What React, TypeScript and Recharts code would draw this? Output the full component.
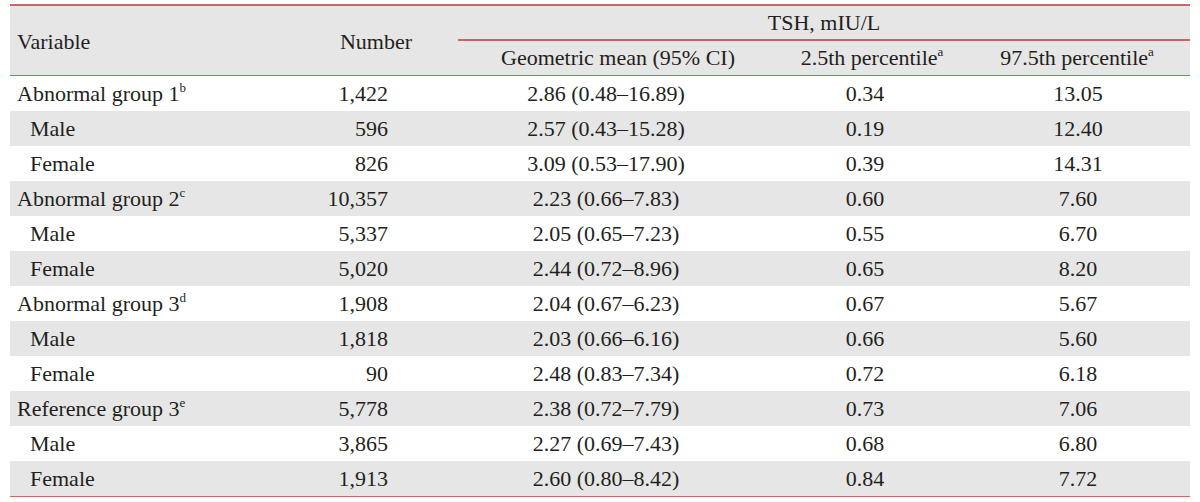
import { BarChart, Bar, XAxis, YAxis, Customized } from 'recharts';

const variables = [
  'Abnormal group 1', 'Male', 'Female',
  'Abnormal group 2', 'Male', 'Female',
  'Abnormal group 3', 'Male', 'Female',
  'Reference group 3', 'Male', 'Female',
];
const footnotes = ['b', '', '', 'c', '', '', 'd', '', '', 'e', '', ''];
const subRow = [false, true, true, false, true, true, false, true, true, false, true, true];
const numbers = [1422, 596, 826, 10357, 5337, 5020, 1908, 1818, 90, 5778, 3865, 1913];
const geoMean = [2.86, 2.57, 3.09, 2.23, 2.05, 2.44, 2.04, 2.03, 2.48, 2.38, 2.27, 2.6];
const ciLow = [0.48, 0.43, 0.53, 0.66, 0.65, 0.72, 0.67, 0.66, 0.83, 0.72, 0.69, 0.8];
const ciHigh = [16.89, 15.28, 17.9, 7.83, 7.23, 8.96, 6.23, 6.16, 7.34, 7.79, 7.43, 8.42];
const p2_5 = [0.34, 0.19, 0.39, 0.6, 0.55, 0.65, 0.67, 0.66, 0.72, 0.73, 0.68, 0.84];
const p97_5 = [13.05, 12.4, 14.31, 7.6, 6.7, 8.2, 5.67, 5.6, 6.18, 7.06, 6.8, 7.72];

const headTop = ['Variable', 'Number', 'TSH, mIU/L'];
const headSub = ['Geometric mean (95% CI)', '2.5th percentile', '97.5th percentile'];

const rows = variables.map((v, i) => ({
  key: 'r' + i,
  band: 1,
  variable: v,
  sup: footnotes[i],
  sub: subRow[i],
  number: numbers[i].toLocaleString('en-US'),
  geo: `${geoMean[i].toFixed(2)} (${ciLow[i].toFixed(2)}–${ciHigh[i].toFixed(2)})`,
  lo: p2_5[i].toFixed(2),
  hi: p97_5[i].toFixed(2),
}));

const FONT = 'Liberation Serif';
const INK = '#231f20';
const RED = '#c5323b';
const GRAY = '#e6e6e6';
const LEFT = 10;
const RIGHT = 1190;

function RowShape(props: any) {
  const { x, y, width, height, index, payload } = props;
  const ty = y + height / 2 + 7;
  return (
    <g fontFamily={FONT} fontSize={22} fill={INK}>
      <rect x={x} y={y} width={width} height={height} fill={index % 2 === 1 ? GRAY : '#fff'} />
      <text x={x + (payload.sub ? 20 : 7)} y={ty}>
        {payload.variable}
        {payload.sup && (
          <tspan dy={-9} fontSize={13}>{payload.sup}</tspan>
        )}
      </text>
      <text x={x + 378} y={ty} textAnchor="end">{payload.number}</text>
      <text x={x + 596} y={ty} textAnchor="middle">{payload.geo}</text>
      <text x={x + 855} y={ty} textAnchor="middle">{payload.lo}</text>
      <text x={x + 1068} y={ty} textAnchor="middle">{payload.hi}</text>
    </g>
  );
}

function Header() {
  return (
    <g fontFamily={FONT} fontSize={22} fill={INK}>
      <rect x={LEFT} y={5} width={RIGHT - LEFT} height={71} fill={GRAY} />
      <text x={17} y={49}>{headTop[0]}</text>
      <text x={376} y={49} textAnchor="middle">{headTop[1]}</text>
      <text x={824} y={30} textAnchor="middle">{headTop[2]}</text>
      <text x={618} y={65} textAnchor="middle">{headSub[0]}</text>
      <text x={872} y={65} textAnchor="middle">
        {headSub[1]}
        <tspan dy={-9} fontSize={13}>a</tspan>
      </text>
      <text x={1077} y={65} textAnchor="middle">
        {headSub[2]}
        <tspan dy={-9} fontSize={13}>a</tspan>
      </text>
      <line x1={LEFT} x2={RIGHT} y1={5} y2={5} stroke={RED} strokeWidth={1.5} />
      <line x1={458} x2={RIGHT} y1={40} y2={40} stroke={RED} strokeWidth={1.5} />
      <line x1={LEFT} x2={RIGHT} y1={76} y2={76} stroke={RED} strokeWidth={1.5} />
      <line x1={LEFT} x2={RIGHT} y1={496} y2={496} stroke={RED} strokeWidth={1.5} />
    </g>
  );
}

export default function App() {
  return (
    <div style={{ position: 'absolute', left: 0, top: 0, width: 1200, height: 502, background: '#fff' }}>
      <BarChart
        width={1200}
        height={502}
        data={rows}
        layout="vertical"
        barCategoryGap={0}
        margin={{ top: 76, right: 10, bottom: 6, left: 10 }}
      >
        <XAxis type="number" domain={[0, 1]} hide />
        <YAxis type="category" dataKey="key" hide />
        <Bar dataKey="band" shape={<RowShape />} isAnimationActive={false} />
        <Customized component={<Header />} />
      </BarChart>
    </div>
  );
}
